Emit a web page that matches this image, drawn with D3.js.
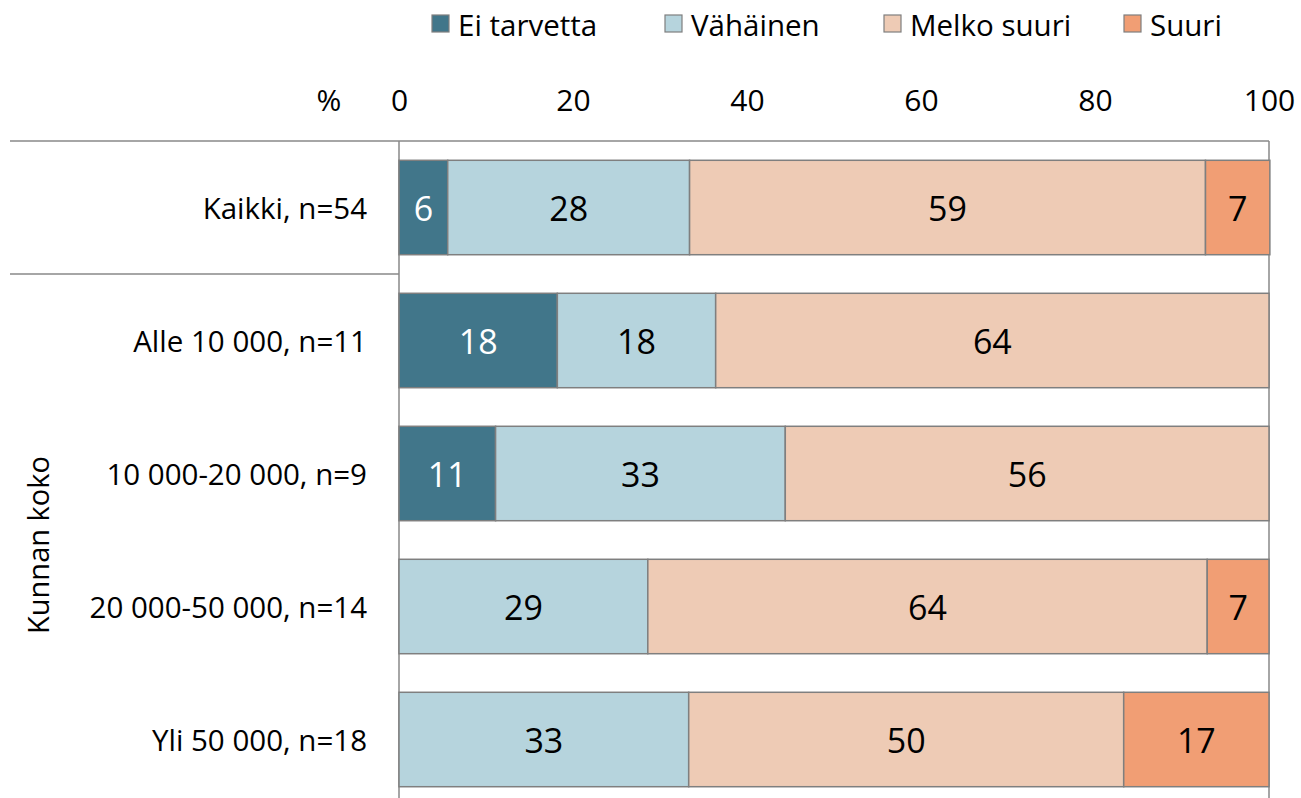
<!DOCTYPE html>
<html><head><meta charset="utf-8">
<script src="https://cdn.jsdelivr.net/npm/d3@7"></script>
<style>body{margin:0;background:#fff}svg{display:block}text{font-family:"Open Sans","Noto Sans",sans-serif}</style>
</head><body>
<svg id="c" width="1301" height="798"></svg>
<script>
const categories = ["Kaikki, n=54","Alle 10 000, n=11","10 000-20 000, n=9","20 000-50 000, n=14","Yli 50 000, n=18"];
const seriesNames = ["Ei tarvetta","Vähäinen","Melko suuri","Suuri"];
const eiTarvetta = [5.6, 18.2, 11.1, 0, 0];
const vahainen   = [27.8, 18.2, 33.3, 28.6, 33.3];
const melkoSuuri = [59.3, 63.6, 55.6, 64.3, 50.0];
const suuri      = [7.4, 0, 0, 7.1, 16.7];
const tickValues = [0,20,40,60,80,100];
const colors = ["#41768a","#b6d4dd","#eecbb5","#f19e74"];
const labelColors = ["#fff","#000","#000","#000"];

(function(){
const svg = d3.select("#c");
const left = 399, right = 1269, plotTop = 141, band = 133;
const x = d3.scaleLinear().domain([0,100]).range([left,right]);
const y = d3.scaleBand().domain(categories).range([plotTop, plotTop+band*categories.length]).paddingInner(0.29).paddingOuter(0.145);

const rows = categories.map((c,i)=>({cat:c, vals:[eiTarvetta[i],vahainen[i],melkoSuuri[i],suuri[i]]}));
const stackData = rows.map(r=>{const o={cat:r.cat}; seriesNames.forEach((s,j)=>o[s]=r.vals[j]); return o;});
const stacked = d3.stack().keys(seriesNames)(stackData);

const g = svg.append("g");
g.append("line").attr("x1",10).attr("x2",right).attr("y1",plotTop).attr("y2",plotTop).attr("stroke","#888").attr("stroke-width",1.5);
g.append("line").attr("x1",10).attr("x2",left).attr("y1",plotTop+band).attr("y2",plotTop+band).attr("stroke","#888").attr("stroke-width",1.5);
g.append("line").attr("x1",right).attr("x2",right).attr("y1",plotTop).attr("y2",798).attr("stroke","#888").attr("stroke-width",1.5);

stacked.forEach((s,j)=>{
  const gg = svg.append("g");
  const segs = s.filter(d=>d[1]-d[0]>0);
  gg.selectAll("rect").data(segs).join("rect")
    .attr("x",d=>x(d[0])).attr("y",d=>y(d.data.cat))
    .attr("width",d=>x(d[1])-x(d[0])).attr("height",y.bandwidth())
    .attr("fill",colors[j]).attr("stroke","#7f7f7f").attr("stroke-width",1.5);
  gg.selectAll("text").data(segs).join("text")
    .attr("x",d=>(x(d[0])+x(d[1]))/2).attr("y",d=>y(d.data.cat)+y.bandwidth()/2)
    .attr("text-anchor","middle").attr("dominant-baseline","central")
    .attr("font-size",34).attr("fill",labelColors[j])
    .text(d=>Math.round(d[1]-d[0]));
});

g.append("line").attr("x1",left).attr("x2",left).attr("y1",plotTop).attr("y2",798).attr("stroke","#888").attr("stroke-width",1.5);

svg.append("g").selectAll("text").data(categories).join("text")
  .attr("x",367).attr("y",d=>y(d)+y.bandwidth()/2).attr("text-anchor","end")
  .attr("dominant-baseline","central").attr("font-size",29.5).attr("fill","#000").text(d=>d);

const ax = svg.append("g").attr("transform","translate(0,100)")
  .call(d3.axisTop(x).tickValues(tickValues).tickSize(0).tickPadding(0));
ax.select(".domain").remove();
ax.selectAll("text").attr("font-size",30).attr("fill","#000").attr("dy","0.35em").attr("font-family","'Open Sans',sans-serif");
svg.append("text").attr("x",329).attr("y",100).attr("dy","0.35em").attr("text-anchor","middle").attr("font-size",30).text("%");

svg.append("text").attr("transform",`translate(37,${plotTop+band+band*2+5})rotate(-90)`)
  .attr("text-anchor","middle").attr("dominant-baseline","central").attr("font-size",29).text("Kunnan koko");

const legX = [432,665,884,1124];
const leg = svg.append("g").selectAll("g").data(seriesNames).join("g")
  .attr("transform",(d,i)=>`translate(${legX[i]},15)`);
leg.append("rect").attr("width",17).attr("height",17).attr("fill",(d,i)=>colors[i]).attr("stroke","#7f7f7f").attr("stroke-width",1.2);
leg.append("text").attr("x",26).attr("y",9).attr("dominant-baseline","central").attr("font-size",29.5).text(d=>d);
})();
</script>
</body></html>
